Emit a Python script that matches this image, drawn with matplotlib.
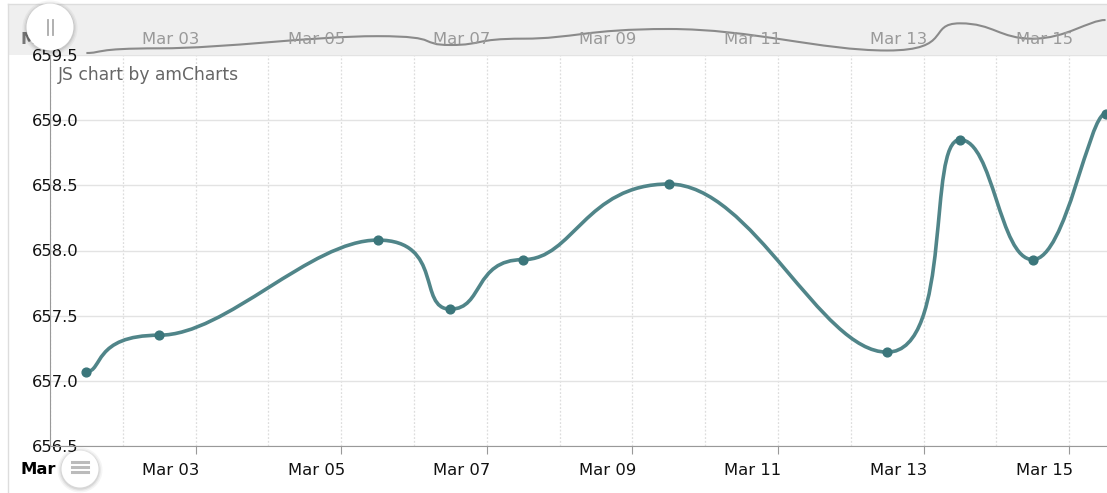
import numpy as np
import pandas as pd
import matplotlib.pyplot as plt
import matplotlib.dates as mdates
import matplotlib.transforms as mtransforms
from matplotlib.path import Path
from matplotlib.patches import PathPatch, Circle, Rectangle
from matplotlib.lines import Line2D

# data (one point per day, at noon)
dates = pd.to_datetime(['2024-03-01 12:00', '2024-03-02 12:00', '2024-03-05 12:00',
                        '2024-03-06 12:00', '2024-03-07 12:00', '2024-03-09 12:00',
                        '2024-03-12 12:00', '2024-03-13 12:00', '2024-03-14 12:00',
                        '2024-03-15 12:00'])
values = [657.07, 657.35, 658.08, 657.55, 657.93, 658.51, 657.22, 658.85, 657.93, 659.05]
tick_dates = pd.date_range('2024-03-03', '2024-03-15', freq='2D')
tick_labels = [d.strftime('%b %d') for d in tick_dates]
y_ticks = [656.5, 657.0, 657.5, 658.0, 658.5, 659.0, 659.5]

W, H = 1107, 493
LINE = '#508589'
DOT = '#3b767b'
TENSION_X = 0.77


def px(x, y):
    # pixel position (from top-left) -> inches for dpi_scale_trans
    return x / 100, (H - y) / 100


def smooth_path(xs, ys, tension_x=TENSION_X):
    # amCharts-like tension smoothing: control points keep the y of their end point
    pts = list(zip(xs, ys))
    t = 1 - tension_x
    verts = [pts[0]]
    codes = [Path.MOVETO]
    n = len(pts)
    for i in range(n - 1):
        p0 = pts[i - 1] if i > 0 else pts[i]
        p1 = pts[i]
        p2 = pts[i + 1]
        p3 = pts[i + 2] if i + 2 < n else pts[i + 1]
        a = (p1[0] + t * (p2[0] - p0[0]), p1[1])
        b = (p2[0] - t * (p3[0] - p1[0]), p2[1])
        verts += [a, b, p2]
        codes += [Path.CURVE4] * 3
    return Path(verts, codes)


xnum = mdates.date2num(dates)
x0 = mdates.date2num(pd.Timestamp('2024-03-01'))
x1 = x0 + 14.52

fig = plt.figure(figsize=(W / 100, H / 100), dpi=100)
plt.rcParams['font.family'] = ['DejaVu Sans']

# frame + scrollbar background
fig.add_artist(Line2D([8 / W, 8 / W], [0, 1 - 4 / H], color='#dddddd', lw=1))
fig.add_artist(Line2D([8 / W, 1], [1 - 4 / H, 1 - 4 / H], color='#dddddd', lw=1))
fig.add_artist(Rectangle((8 / W, 1 - 55 / H), 1 - 8 / W, 51 / H,
                         facecolor='#efefef', edgecolor='none', zorder=0))

# main chart
ax = fig.add_axes([50 / W, 47 / H, (W - 50) / W, (446 - 55) / H])
ax.set_facecolor('none')
ax.set_xlim(x0, x1)
ax.set_ylim(656.5, 659.5)
ax.set_yticks(y_ticks)
ax.set_yticklabels([f'{v:.1f}' for v in y_ticks])
ax.xaxis.set_minor_locator(mdates.DayLocator())
ax.set_xticks(mdates.date2num(tick_dates))
ax.set_xticklabels(tick_labels)
for s in ['top', 'right']:
    ax.spines[s].set_visible(False)
for s in ['left', 'bottom']:
    ax.spines[s].set_color('#999999')
ax.tick_params(axis='y', length=0, pad=-4, labelsize=11.8, labelcolor='#111111')
for lab in ax.get_yticklabels():
    lab.set_ha('center')
ax.tick_params(axis='x', which='major', length=6, color='#999999', pad=6,
               labelsize=11.8, labelcolor='#111111')
ax.tick_params(axis='x', which='minor', length=0)
shift = mtransforms.ScaledTranslation(-0.25, 0, fig.dpi_scale_trans)
for lab in ax.get_xticklabels():
    lab.set_transform(lab.get_transform() + shift)
ax.yaxis.grid(True, color='#e3e3e3', lw=1)
ax.xaxis.grid(True, which='both', color='#dddddd', lw=0.9, ls=(0, (1.5, 1.5)))
ax.set_axisbelow(True)

ax.add_patch(PathPatch(smooth_path(xnum, values), facecolor='none', edgecolor=LINE,
                       lw=2.6, capstyle='round', zorder=3))
ax.scatter(xnum, values, s=40, color=DOT, zorder=4, clip_on=True)

fig.text(58 / W, 1 - 75 / H, 'JS chart by amCharts', fontsize=12.3, color='#666666',
         va='center', ha='left')

# scrollbar preview
sb = fig.add_axes([50 / W, (H - 55) / H, (W - 50) / W, 51 / H])
sb.axis('off')
sb.set_xlim(x0, x1)
sb.set_ylim(656.95, 660.01)
sb.add_patch(PathPatch(smooth_path(xnum, values), facecolor='none', edgecolor='#8a8a8a',
                       lw=1.5, zorder=2))
for d, lab in zip(mdates.date2num(tick_dates), tick_labels):
    sb.text(d, 0.31, lab, fontsize=11.8, color='#999999', ha='center', va='center',
            zorder=3, transform=sb.get_xaxis_transform() + shift)

fig.text(20 / W, 1 - 39 / H, 'Mar', fontsize=11.8, fontweight='bold', color='#777777',
         va='center', ha='left')
fig.text(20 / W, 1 - 469 / H, 'Mar', fontsize=11.8, fontweight='bold', color='#000000',
         va='center', ha='left')

# grip buttons
dpi_t = fig.dpi_scale_trans
for cx, cy, r in [(50, 27, 23.5), (80, 469, 18.5)]:
    for k, a in [(4, 0.04), (2.5, 0.05), (1.2, 0.07)]:
        fig.add_artist(Circle(px(cx, cy + 1), (r + k) / 100, transform=dpi_t,
                              facecolor='#000000', alpha=a, edgecolor='none', zorder=10))
    fig.add_artist(Circle(px(cx, cy), r / 100, transform=dpi_t, facecolor='white',
                          edgecolor='none', zorder=11))
for gx in [48, 53]:
    xa, ya = px(gx, 20)
    xb, yb = px(gx, 35)
    fig.add_artist(Line2D([xa, xb], [ya, yb], transform=dpi_t, color='#aaaaaa',
                          lw=1.3, zorder=12))
for gy in [462, 467, 472]:
    xa, ya = px(72, gy)
    xb, yb = px(88, gy)
    fig.add_artist(Line2D([xa, xb], [ya, yb], transform=dpi_t, color='#bbbbbb',
                          lw=2.2, zorder=12))

fig.savefig('out.png', dpi=100)
